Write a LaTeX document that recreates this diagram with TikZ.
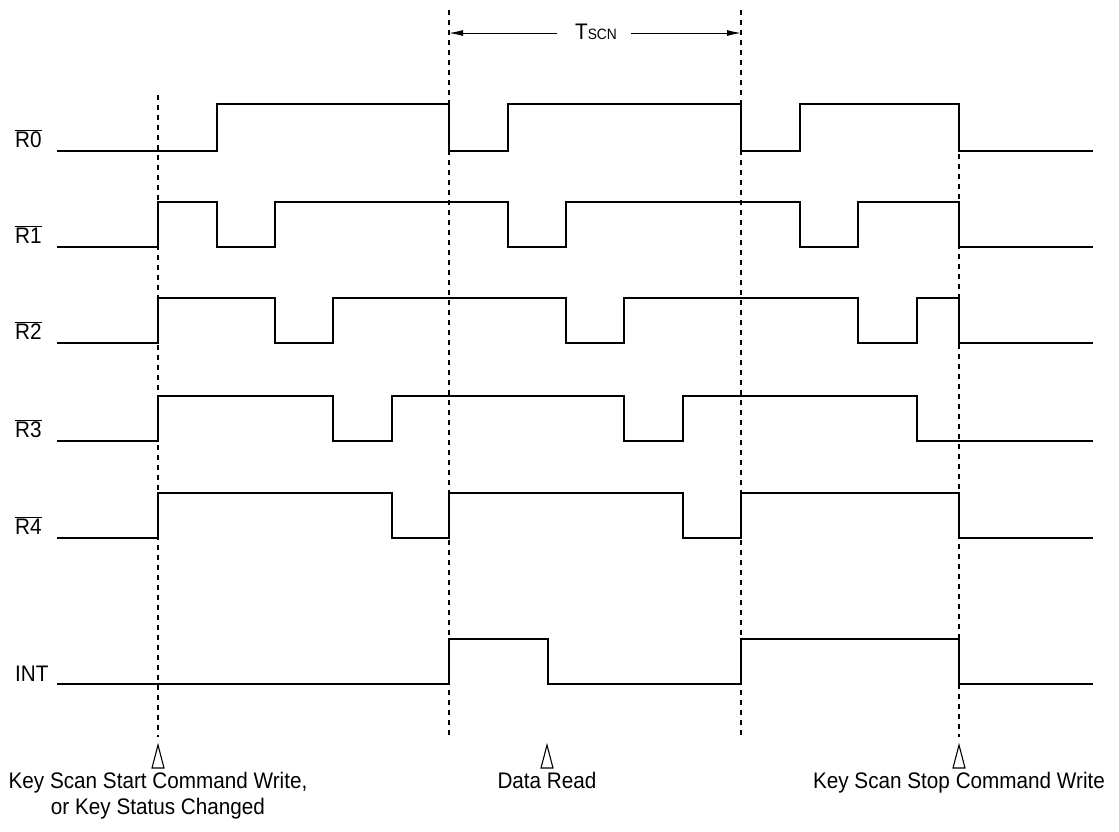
\documentclass[tikz,border=0pt]{standalone}
\usepackage{fontspec}
\setmainfont[FakeStretch=0.92]{Liberation Sans}
\usetikzlibrary{arrows.meta}
\begin{document}
\begin{tikzpicture}[x=1pt,y=-1pt,
  sig/.style={line width=1.3pt, line join=miter},
  guide/.style={line width=1.1pt, dash pattern=on 5pt off 5pt},
  marker/.style={line width=1.1pt, line join=miter},
  lbl/.style={font=\fontsize{22.5}{26}\selectfont, inner sep=0pt, anchor=base west},
  captxt/.style={font=\fontsize{22.5}{26}\selectfont, inner sep=0pt, anchor=base},
  dim/.style={line width=1pt, -{Latex[length=14pt,width=6pt]}}]
\useasboundingbox (0,0) rectangle (1119,831);

% guide lines
\draw[guide] (158,95) -- (158,737);
\draw[guide] (449,10) -- (449,737);
\draw[guide] (741,10) -- (741,737);
\draw[guide] (959,104) -- (959,737);

% T_SCN
\node[captxt] (tscn) at (596,39) {T{\fontsize{15}{16}\selectfont SCN}};
\coordinate (tl) at (449,33);
\coordinate (tr) at (741,33);
\draw[dim] (557,33) -- (tl);
\draw[dim] (631,33) -- (tr);

% labels
\node[lbl] (r0) at (15,147) {$\overline{\hbox{R0}}$};
\node[lbl] (r1) at (15,243) {$\overline{\hbox{R1}}$};
\node[lbl] (r2) at (15,339) {$\overline{\hbox{R2}}$};
\node[lbl] (r3) at (15,437) {$\overline{\hbox{R3}}$};
\node[lbl] (r4) at (15,534) {$\overline{\hbox{R4}}$};
\node[lbl] (int) at (15,681) {INT};

% signals
\draw[sig] (57,151) -| (217,104) -| (449,151) -| (508,104) -| (741,151) -| (800,104) -| (959,151) -- (1093,151);
\draw[sig] (57,247) -| (158,202) -| (217,247) -| (275,202) -| (508,247) -| (566,202) -| (800,247) -| (858,202) -| (959,247) -- (1093,247);
\draw[sig] (57,343) -| (158,298) -| (275,343) -| (333,298) -| (566,343) -| (624,298) -| (858,343) -| (917,298) -| (959,343) -- (1093,343);
\draw[sig] (57,441) -| (158,396) -| (333,441) -| (392,396) -| (624,441) -| (683,396) -| (917,441) -- (1093,441);
\draw[sig] (57,538) -| (158,493) -| (392,538) -| (449,493) -| (683,538) -| (741,493) -| (959,538) -- (1093,538);
\draw[sig] (57,684) -| (449,639) -| (548,684) -| (741,639) -| (959,684) -- (1093,684);

% markers
\draw[marker] (152,768) -- (158,745) -- (164,768) -- cycle;
\draw[marker] (541,768) -- (547,745) -- (553,768) -- cycle;
\draw[marker] (953,768) -- (959,745) -- (965,768) -- cycle;

% captions
\node[captxt] (k1) at (158,788) {Key Scan Start Command Write,};
\node[captxt] (k2) at (158,814) {or Key Status Changed};
\node[captxt] (dr) at (547,788) {Data Read};
\node[captxt] (ks) at (959,788) {Key Scan Stop Command Write};
\end{tikzpicture}
\end{document}
